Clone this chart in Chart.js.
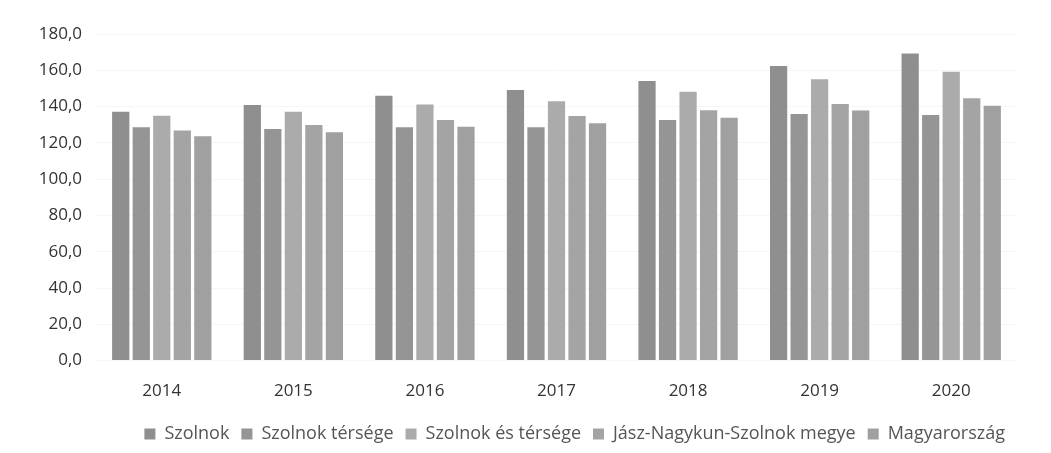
<!DOCTYPE html>
<html>
<head>
<meta charset="utf-8">
<script src="https://cdn.jsdelivr.net/npm/chart.js@4/dist/chart.umd.min.js"></script>
<style>
html,body{margin:0;padding:0;background:#fff;}
#wrap{width:1051px;height:453px;}
</style>
</head>
<body>
<div id="wrap"><canvas id="chart"></canvas></div>
<script>
// years on the x axis
const years = ["2014","2015","2016","2017","2018","2019","2020"];

// values
const szolnok      = [137.2, 140.9, 146.0, 149.1, 154.1, 162.4, 169.3];
const szolnokTers  = [128.6, 127.7, 128.6, 128.6, 132.6, 135.9, 135.4];
const szolnokEsT   = [135.0, 137.2, 141.1, 142.9, 148.2, 155.0, 159.2];
const jnszMegye    = [126.8, 129.9, 132.6, 134.8, 138.0, 141.4, 144.6];
const magyarorszag = [123.7, 125.9, 128.9, 130.8, 133.9, 137.8, 140.5];

const seriesNames = ["Szolnok","Szolnok térsége","Szolnok és térsége","Jász-Nagykun-Szolnok megye","Magyarország"];
const seriesColors = ["#8f8f8f","#959595","#ababab","#a4a4a4","#a0a0a0"];

const fnt = "'Open Sans', 'Noto Sans', sans-serif";

new Chart(document.getElementById("chart"), {
  type: "bar",
  data: {
    labels: years,
    datasets: [szolnok, szolnokTers, szolnokEsT, jnszMegye, magyarorszag].map((d, i) => ({
      label: seriesNames[i],
      data: d,
      backgroundColor: seriesColors[i],
      categoryPercentage: 0.78,
      barPercentage: 0.84
    }))
  },
  options: {
    responsive: true,
    maintainAspectRatio: false,
    animation: false,
    layout: { padding: { top: 34, right: 34, left: 14, bottom: 0 } },
    plugins: {
      tooltip: { enabled: false },
      legend: {
        position: "bottom",
        align: "end",
        labels: {
          boxWidth: 11, boxHeight: 11, padding: 12,
          color: "#555",
          font: { family: fnt, size: 18 }
        }
      }
    },
    scales: {
      x: {
        grid: { display: false },
        border: { display: false },
        ticks: { color: "#333", padding: 12, font: { family: fnt, size: 17 } }
      },
      y: {
        min: 0, max: 180,
        ticks: {
          stepSize: 20, color: "#333", padding: 14,
          font: { family: fnt, size: 17 },
          callback: v => v.toFixed(1).replace(".", ",")
        },
        grid: { color: "#f6f6f6", drawTicks: false },
        border: { display: false },
        afterFit: s => { s.width = 82; }
      }
    }
  }
});
</script>
</body>
</html>
